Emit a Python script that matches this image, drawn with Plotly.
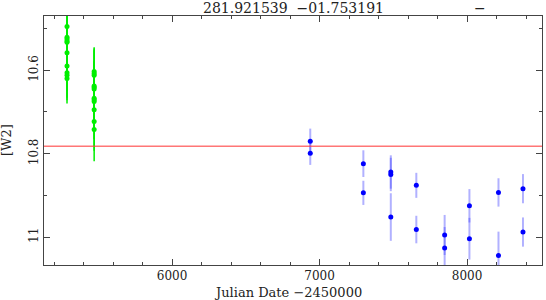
import plotly.graph_objects as go

# ---- data ----
green_jd_1 = 5288
green_mag_1 = [10.495, 10.521, 10.525, 10.530, 10.533, 10.558, 10.590, 10.606, 10.612, 10.620]
green_err_1 = [0.06, 0.06, 0.06, 0.06, 0.06, 0.06, 0.06, 0.06, 0.06, 0.06]
green_jd_2 = 5472
green_mag_2 = [10.603, 10.608, 10.612, 10.638, 10.641, 10.645, 10.667, 10.671, 10.675, 10.695, 10.723, 10.742]
green_err_2 = [0.058, 0.06, 0.06, 0.06, 0.06, 0.06, 0.065, 0.065, 0.065, 0.07, 0.07, 0.076]

blue_jd = [6937, 6937, 7297, 7297, 7483, 7483, 7483, 7656, 7656,
           7848, 7848, 8016, 8016, 8213, 8213, 8379, 8379]
blue_mag = [10.770, 10.799, 10.824, 10.894, 10.844, 10.850, 10.952, 10.876, 10.982,
            10.995, 11.026, 10.925, 11.004, 10.893, 11.044, 10.884, 10.988]
blue_err = [0.03, 0.028, 0.032, 0.029, 0.04, 0.04, 0.057, 0.03, 0.033,
            0.048, 0.05, 0.04, 0.05, 0.034, 0.057, 0.035, 0.035]

ref_mag = 10.782
title_text = "281.921539  \u221201.753191"
x_label = "Julian Date \u22122450000"
y_label = "[W2]"
x_ticks = [6000, 7000, 8000]
y_ticks = [10.6, 10.8, 11.0]
y_ticktext = ["10.6", "10.8", "11"]

x_range = [5132, 8508]
y_range = [11.067, 10.470]

SERIF = "DejaVu Serif"

fig = go.Figure()

fig.add_trace(go.Scatter(
    x=[green_jd_1] * len(green_mag_1), y=green_mag_1, mode="markers",
    marker=dict(color="#00ee00", size=5),
    error_y=dict(type="data", array=green_err_1, color="#00ee00", thickness=1.5, width=0),
    showlegend=False))
fig.add_trace(go.Scatter(
    x=[green_jd_2] * len(green_mag_2), y=green_mag_2, mode="markers",
    marker=dict(color="#00ee00", size=5),
    error_y=dict(type="data", array=green_err_2, color="#00ee00", thickness=1.5, width=0),
    showlegend=False))
fig.add_trace(go.Scatter(
    x=blue_jd, y=blue_mag, mode="markers",
    marker=dict(color="#0000ff", size=5),
    error_y=dict(type="data", array=blue_err, color="rgba(60,60,255,0.4)", thickness=2, width=0),
    showlegend=False))

fig.add_shape(type="line", xref="paper", x0=0, x1=1, yref="y", y0=ref_mag, y1=ref_mag,
              line=dict(color="rgba(255,60,60,0.7)", width=1.5))

fig.add_annotation(text=title_text, xref="paper", yref="paper", x=0.5, y=1,
                   xanchor="center", yanchor="middle", yshift=8, showarrow=False,
                   borderpad=0, font=dict(family=SERIF, size=14, color="#222"))
fig.add_annotation(text="\u2212", xref="x", yref="paper", x=8090, y=1,
                   xanchor="center", yanchor="middle", yshift=8, showarrow=False,
                   borderpad=0, font=dict(family=SERIF, size=14, color="#222"))
fig.add_annotation(text=x_label, xref="paper", yref="paper", x=0.49, y=0,
                   xanchor="center", yanchor="top", yshift=-18, showarrow=False,
                   font=dict(family=SERIF, size=13, color="#222"))
fig.add_annotation(text=y_label, xref="paper", yref="paper", x=0, y=0.5, textangle=-90,
                   xanchor="right", yanchor="middle", xshift=-28, showarrow=False,
                   font=dict(family=SERIF, size=13, color="#222"))

axis_common = dict(showgrid=False, zeroline=False, showline=True, linecolor="#444",
                   linewidth=1, mirror="allticks", ticks="inside", tickcolor="#444",
                   automargin=False,
                   tickfont=dict(family=SERIF, size=12, color="#222"))

fig.update_xaxes(range=x_range, tickvals=x_ticks, ticklen=6,
                 minor=dict(dtick=200, tick0=5000, ticks="inside", ticklen=3, tickcolor="#444"),
                 **axis_common)
fig.update_yaxes(range=y_range, tickvals=y_ticks, ticktext=y_ticktext, ticklen=6, tickangle=-90,
                 minor=dict(dtick=0.1, tick0=10.0, ticks="inside", ticklen=3, tickcolor="#444"),
                 **axis_common)

fig.update_layout(width=546, height=300, margin=dict(l=44, r=4, t=16, b=35),
                  plot_bgcolor="white", paper_bgcolor="white")

fig.write_html("out.html", config={"displayModeBar": False},
               post_script="document.body.style.margin='0';")
